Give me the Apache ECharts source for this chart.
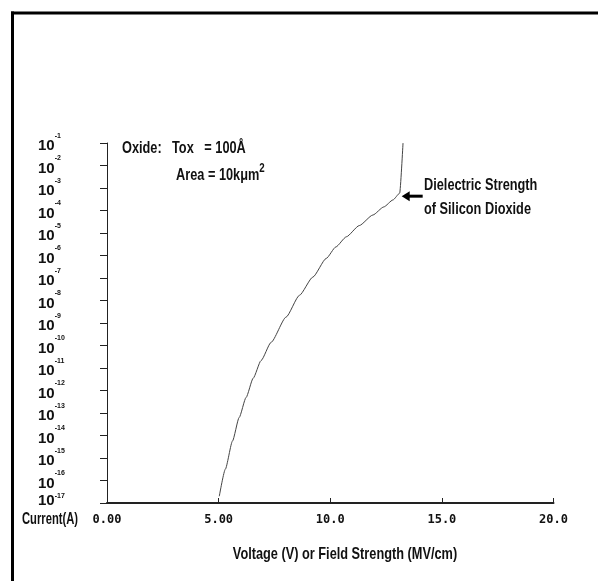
<!DOCTYPE html>
<html lang="en">
<head>
    <meta charset="UTF-8">
    <title>Oxide I-V</title>
    <style>
        html, body { margin: 0; padding: 0; background: #fff; }
        #main { width: 598px; height: 581px; }
    </style>
</head>
<body>
<div id="main"></div>
<script src="https://cdn.jsdelivr.net/npm/echarts@6/dist/echarts.min.js"></script>
<script>
    // voltage (MV/cm) and log10 of current (A)
    var voltage = [5.03, 5.30, 5.62, 5.92, 6.23, 6.55, 6.90, 7.35, 8.02, 8.62, 9.22, 9.82, 10.25, 10.72, 11.30, 11.91, 12.40, 12.81, 13.11, 13.26];
    var logCurrent = [-16.7, -15.5, -14.25, -13.2, -12.31, -11.45, -10.67, -9.86, -8.74, -7.77, -6.96, -6.13, -5.62, -5.17, -4.67, -4.20, -3.84, -3.53, -3.23, -1.0];
    var xTicks = [0, 5, 10, 15, 20];
    var yMin = -17, yMax = -1;

    var sans = "'Liberation Sans', Arial, sans-serif";

    var pts = [];
    for (var i = 0; i < voltage.length; i++) {
        pts.push([voltage[i], logCurrent[i]]);
    }

    // condensed bold text, squeezed horizontally like the original
    function label(text, x, y, size, sx, align) {
        return {
            type: 'text', x: x, y: y, scaleX: sx,
            style: { text: text, font: 'bold ' + size + 'px ' + sans, fill: '#111', align: align || 'left', verticalAlign: 'middle' }
        };
    }

    var chart = echarts.init(document.getElementById('main'));
    var option = {
        animation: false,
        grid: { left: 107, right: 44.5, top: 143, bottom: 78 },
        xAxis: {
            type: 'value',
            min: xTicks[0],
            max: xTicks[xTicks.length - 1],
            interval: 5,
            axisLine: { lineStyle: { color: '#222', width: 2 } },
            axisTick: { inside: true, length: 5, lineStyle: { color: '#222' } },
            splitLine: { show: false },
            axisLabel: {
                margin: 11,
                color: '#111',
                fontFamily: "'DejaVu Sans Mono', monospace",
                fontWeight: 'bold',
                fontSize: 12,
                formatter: function (v) { return v.toPrecision(3); }
            }
        },
        yAxis: {
            type: 'value',
            min: yMin,
            max: yMax,
            interval: 1,
            axisLine: { show: true, lineStyle: { color: '#222', width: 1 } },
            axisTick: { show: true, length: 7, lineStyle: { color: '#222' } },
            splitLine: { show: false },
            axisLabel: {
                align: 'left',
                margin: 69,
                formatter: function (v) {
                    if (v === yMin) return '{b2|10}{e2|' + v + '}';
                    return '{b|10}{e|' + v + '}';
                },
                rich: {
                    b: { fontFamily: sans, fontWeight: 'bold', fontSize: 15, color: '#111', lineHeight: 21, verticalAlign: 'bottom' },
                    e: { fontFamily: sans, fontWeight: 'bold', fontSize: 7, color: '#111', lineHeight: 21, verticalAlign: 'top' },
                    b2: { fontFamily: sans, fontWeight: 'bold', fontSize: 15, color: '#111', lineHeight: 21, verticalAlign: 'middle', padding: [0, 0, 4, 0] },
                    e2: { fontFamily: sans, fontWeight: 'bold', fontSize: 7, color: '#111', lineHeight: 21, verticalAlign: 'top' }
                }
            }
        },
        series: [{
            type: 'line',
            data: pts,
            symbol: 'none',
            smooth: 0.2,
            smoothMonotone: 'x',
            lineStyle: { color: '#444', width: 1 }
        }],
        graphic: [
            { type: 'line', shape: { x1: 11, y1: 13, x2: 598, y2: 13 }, style: { stroke: '#000', lineWidth: 3 } },
            { type: 'line', shape: { x1: 12.5, y1: 11.5, x2: 12.5, y2: 581 }, style: { stroke: '#000', lineWidth: 3 } },
            label('Current(A)', 22, 520, 16, 0.7),
            label('Voltage (V) or Field Strength (MV/cm)', 345, 554, 17, 0.75, 'center'),
            label('Oxide:', 122, 148, 17, 0.75),
            label('Tox   = 100Å', 172, 148, 17, 0.75),
            {
                type: 'text', x: 176, y: 173, scaleX: 0.75,
                style: {
                    text: '{t|Area = 10kμm}{s|2}',
                    verticalAlign: 'middle',
                    rich: {
                        t: { font: 'bold 17px ' + sans, fill: '#111', lineHeight: 22, verticalAlign: 'bottom' },
                        s: { font: 'bold 13px ' + sans, fill: '#111', lineHeight: 22, verticalAlign: 'top' }
                    }
                }
            },
            label('Dielectric Strength', 424, 185, 17, 0.75),
            label('of Silicon Dioxide', 424, 209, 17, 0.75)
        ]
    };
    chart.setOption(option);

    // arrow pointing at the knee of the curve
    var k = voltage.length - 2;
    var knee = chart.convertToPixel({ gridIndex: 0 }, [voltage[k], logCurrent[k]]);
    var tipX = knee[0] + 2, tipY = knee[1] + 3;
    chart.setOption({
        graphic: option.graphic.concat([
            { type: 'line', shape: { x1: tipX + 6, y1: tipY, x2: tipX + 21, y2: tipY }, style: { stroke: '#000', lineWidth: 3 } },
            { type: 'polygon', shape: { points: [[tipX, tipY], [tipX + 8, tipY - 5], [tipX + 8, tipY + 5]] }, style: { fill: '#000' } }
        ])
    });
</script>
</body>
</html>
